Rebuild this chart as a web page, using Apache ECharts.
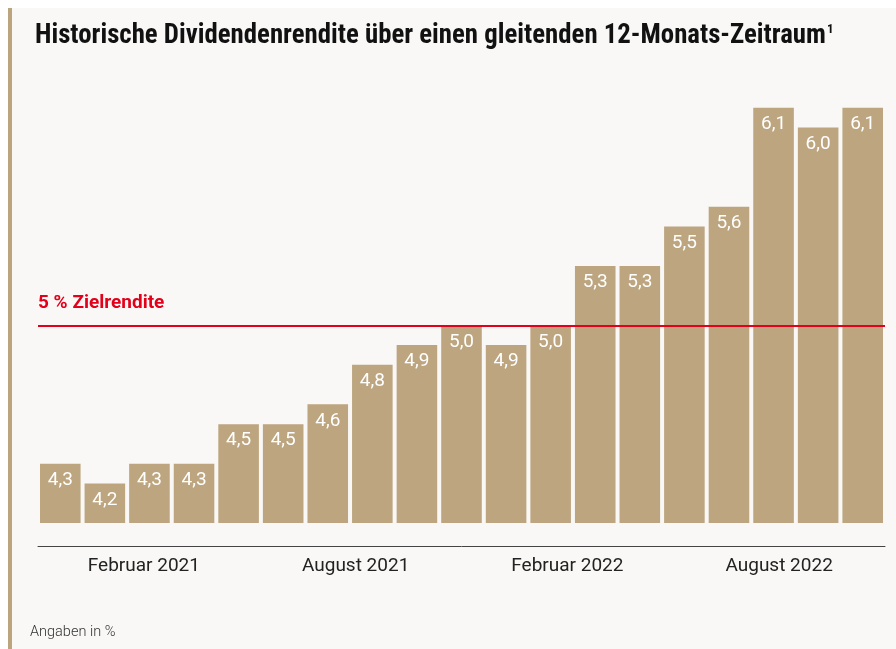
<!DOCTYPE html>
<html><head><meta charset="utf-8">
<script src="https://cdn.jsdelivr.net/npm/echarts@6/dist/echarts.min.js"></script>
<style>html,body{margin:0;padding:0;background:#fff}#c{width:896px;height:649px}</style>
</head><body><div id="c"></div>
<script>
const months = ["Dez 2020","Jan 2021","Feb 2021","Mär 2021","Apr 2021","Mai 2021","Jun 2021","Jul 2021","Aug 2021","Sep 2021","Okt 2021","Nov 2021","Dez 2021","Jan 2022","Feb 2022","Mär 2022","Apr 2022","Mai 2022","Jun 2022"];
const yields = [4.3,4.2,4.3,4.3,4.5,4.5,4.6,4.8,4.9,5.0,4.9,5.0,5.3,5.3,5.5,5.6,6.1,6.0,6.1];
const tickLabels = ["Februar 2021","August 2021","Februar 2022","August 2022"];
const target = 5.0;
const titleText = "Historische Dividendenrendite über einen gleitenden 12-Monats-Zeitraum";
const targetLabel = "5 % Zielrendite";
const footnote = "Angaben in %";

const chart = echarts.init(document.getElementById('c'), null, {renderer:'canvas'});
const titleFont = '"Roboto Condensed","Liberation Sans Narrow","DejaVu Sans Condensed",Roboto,sans-serif';
chart.setOption({
  animation:false,
  backgroundColor:'#ffffff',
  graphic:[
    {type:'rect', left:8, top:8, shape:{width:888, height:641}, style:{fill:'#f9f8f6'}, z:-10},
    {type:'rect', left:8, top:8, shape:{width:4, height:641}, style:{fill:'#bba57e'}, z:-9},
    {type:'text', left:30, top:625, style:{text:footnote, font:'300 14.5px Roboto', fill:'#333'}}
  ],
  title:{
    text:'{t|'+titleText+'}{s|1}',
    left:30, top:18,
    textStyle:{rich:{
      t:{fontFamily:titleFont, fontWeight:'bold', fontSize:26.8, color:'#111'},
      s:{fontFamily:titleFont, fontWeight:'bold', fontSize:13, color:'#111', verticalAlign:'top', padding:[0,0,12,1]}
    }}
  },
  grid:{left:38, right:11, top:88, bottom:126},
  xAxis:[
    {type:'category', data:months, show:false, boundaryGap:true},
    {type:'category', data:tickLabels, position:'bottom', offset:23, boundaryGap:true,
     axisLine:{show:true, lineStyle:{color:'#444', width:1}},
     axisTick:{show:false},
     axisLabel:{color:'#222', fontFamily:'Roboto', fontSize:19, margin:11}}
  ],
  yAxis:{type:'value', min:4.0, max:6.2, show:false, splitLine:{show:false}},
  series:[{
    type:'bar', data:yields, xAxisIndex:0, barCategoryGap:'9%',
    itemStyle:{color:'#bca57f'},
    label:{show:true, position:'insideTop', distance:7, color:'#fff', fontFamily:'Roboto', fontWeight:'normal', fontSize:19,
      formatter:p=>p.value.toFixed(1).replace('.',',')},
    markLine:{
      symbol:'none', silent:true,
      data:[{yAxis:target}],
      lineStyle:{color:'#e2001a', width:2, type:'solid'},
      label:{show:true, position:'insideStartTop', formatter:targetLabel, color:'#e2001a',
        fontFamily:'Roboto', fontWeight:'bold', fontSize:19, distance:[0,13]}
    }
  }]
});
</script></body></html>
